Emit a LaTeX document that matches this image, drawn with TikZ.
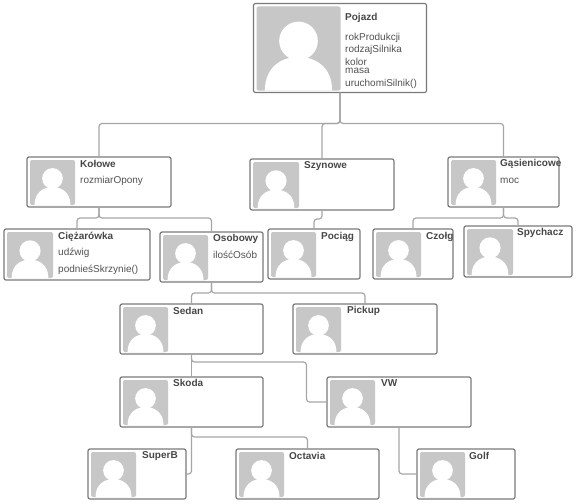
\documentclass[tikz,border=0pt]{standalone}
\usepackage{fontspec}
\setmainfont{Liberation Sans}
\usepackage{tikz}
\tikzset{
  klasa/.style={draw=black!52,line width=1.2pt,rounded corners=2pt,fill=white,outer sep=0pt,inner sep=0pt},
  tytul/.style={anchor=west,inner sep=0pt,font=\bfseries\fontsize{10}{10}\selectfont,text=black!72},
  pole/.style={anchor=west,inner sep=0pt,font=\fontsize{10}{10}\selectfont,text=black!68},
  linia/.style={draw=black!35,line width=1.2pt,rounded corners=3pt},
  portret/.pic={
    \fill[black!22,rounded corners=2pt] (0,0) rectangle (1,1);
    \fill[white] (.5,.41) circle[radius=.23];
    \fill[white] (.1,1) .. controls (.1,.72) and (.3,.6) .. (.5,.6) .. controls (.7,.6) and (.9,.72) .. (.9,1) -- cycle;
  }
}
\begin{document}
\begin{tikzpicture}[x=1pt,y=-1pt]
\useasboundingbox (0,0) rectangle (577,503);
\node[klasa,minimum width=173pt,minimum height=89pt] (pojazd) at (340,48) {};
\node[klasa,minimum width=144pt,minimum height=50pt] (kolowe) at (99,182) {};
\node[klasa,minimum width=144pt,minimum height=51pt] (szynowe) at (322,184.5) {};
\node[klasa,minimum width=111pt,minimum height=50pt] (gasienicowe) at (503.5,182) {};
\node[klasa,minimum width=146pt,minimum height=51pt] (ciezarowka) at (77,254.5) {};
\node[klasa,minimum width=103pt,minimum height=50pt] (osobowy) at (211.5,257) {};
\node[klasa,minimum width=92pt,minimum height=50pt] (pociag) at (314,254) {};
\node[klasa,minimum width=80pt,minimum height=50pt] (czolg) at (413,254) {};
\node[klasa,minimum width=108pt,minimum height=51pt] (spychacz) at (518,251.5) {};
\node[klasa,minimum width=143pt,minimum height=50pt] (sedan) at (191.5,329) {};
\node[klasa,minimum width=144pt,minimum height=50pt] (pickup) at (365,329) {};
\node[klasa,minimum width=143pt,minimum height=50pt] (skoda) at (191.5,402) {};
\node[klasa,minimum width=144pt,minimum height=50pt] (vw) at (399,402) {};
\node[klasa,minimum width=98pt,minimum height=50pt] (superb) at (137,474) {};
\node[klasa,minimum width=143pt,minimum height=50pt] (octavia) at (307.5,474) {};
\node[klasa,minimum width=98pt,minimum height=50pt] (golf) at (466,474) {};
\foreach \n/\s in {pojazd/84,kolowe/45,szynowe/46,gasienicowe/45,ciezarowka/46,osobowy/45,pociag/45,czolg/45,spychacz/46,sedan/45,pickup/45,skoda/45,vw/45,superb/45,octavia/45,golf/45}{
  \coordinate (foto) at ([shift={(3,3)}]\n.north west);
  \pic[x=\s pt,y=-\s pt] at (foto) {portret};
}
\draw[linia] (pojazd.south) -- ++(0,31) -| (kolowe.north);
\draw[linia] (pojazd.south) -- ++(0,31) -| (szynowe.north);
\draw[linia] (pojazd.south) -- ++(0,31) -| (gasienicowe.north);
\draw[linia] (kolowe.south) -- ++(0,11) -| (ciezarowka.north);
\draw[linia] (kolowe.south) -- ++(0,11) -| (osobowy.north);
\draw[linia] (szynowe.south) -- ++(0,9) -| (pociag.north);
\draw[linia] (gasienicowe.south) -- ++(0,11) -| (czolg.north);
\draw[linia] (gasienicowe.south) -- ++(0,11) -| (spychacz.north);
\draw[linia] (osobowy.south) -- ++(0,11) -| (sedan.north);
\draw[linia] (osobowy.south) -- ++(0,11) -| (pickup.north);
\draw[linia] (sedan.south) -- (skoda.north);
\draw[linia] (sedan.south) -- ++(0,8) -- ++(115,0) |- (vw.west);
\draw[linia] (skoda.south) -- ++(0,10) -| (octavia.north);
\draw[linia] (skoda.south) |- (superb.east);
\draw[linia] (vw.south) |- (golf.west);
\node[tytul] (pojazdT) at (345,18) {Pojazd};
\node[pole] (rok) at (345,38) {rokProdukcji};
\node[pole] (rodzaj) at (345,50) {rodzajSilnika};
\node[pole] (kolor) at (345,62) {kolor};
\node[pole] (masa) at (345,71) {masa};
\node[pole] (uruchomi) at (345,84) {uruchomiSilnik()};
\node[tytul] (koloweT) at (80,164) {Kołowe};
\node[pole] (rozmiar) at (80,181) {rozmiarOpony};
\node[tytul] (szynoweT) at (304,166) {Szynowe};
\node[tytul] (gasienicoweT) at (500,164) {Gąsienicowe};
\node[pole] (moc) at (500,181) {moc};
\node[tytul] (ciezarowkaT) at (58,237) {Ciężarówka};
\node[pole] (udzwig) at (58,253) {udźwig};
\node[pole] (podnies) at (58,270) {podnieśSkrzynie()};
\node[tytul] (osobowyT) at (213,239) {Osobowy};
\node[pole] (ilosc) at (213,255) {ilośćOsób};
\node[tytul] (pociagT) at (321,237) {Pociąg};
\node[tytul] (czolgT) at (426,237) {Czołg};
\node[tytul] (spychaczT) at (517,233) {Spychacz};
\node[tytul] (sedanT) at (173,311) {Sedan};
\node[tytul] (pickupT) at (347,311) {Pickup};
\node[tytul] (skodaT) at (173,383) {Skoda};
\node[tytul] (vwT) at (381,383) {VW};
\node[tytul] (superbT) at (142,456) {SuperB};
\node[tytul] (octaviaT) at (289,456) {Octavia};
\node[tytul] (golfT) at (469,456) {Golf};
\end{tikzpicture}
\end{document}
